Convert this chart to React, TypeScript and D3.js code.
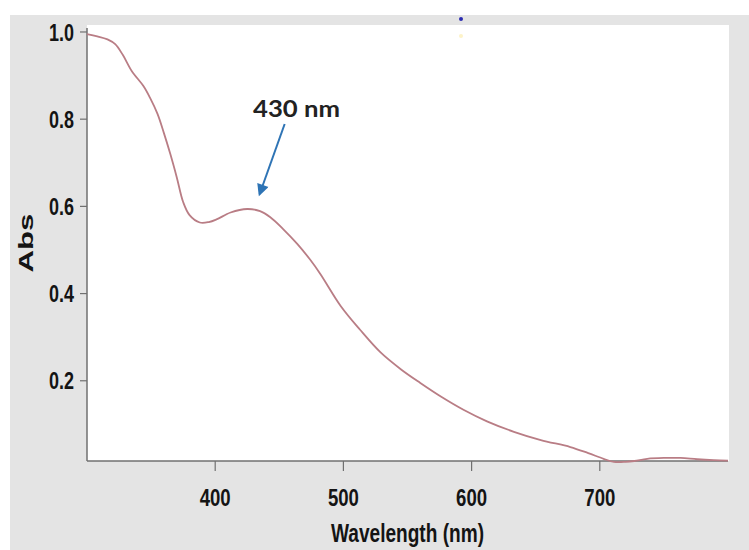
import React from "react";
import * as d3 from "d3";

// spectrum
const wavelengths = [300, 308, 316, 322, 328, 335, 344, 349, 355, 360, 365, 370, 375, 380, 388, 395, 401, 412, 425, 435, 443, 453, 464, 474, 482, 498, 513, 529, 545, 560, 576, 594, 612, 633, 654, 677, 691, 703, 711, 720, 727, 737, 750, 763, 776, 789, 800];
const absorbance = [0.995, 0.99, 0.983, 0.972, 0.947, 0.91, 0.876, 0.85, 0.812, 0.768, 0.72, 0.667, 0.61, 0.58, 0.563, 0.564, 0.57, 0.586, 0.594, 0.589, 0.575, 0.548, 0.514, 0.478, 0.445, 0.371, 0.317, 0.265, 0.226, 0.195, 0.164, 0.133, 0.107, 0.083, 0.064, 0.048, 0.034, 0.021, 0.014, 0.014, 0.016, 0.021, 0.023, 0.023, 0.02, 0.018, 0.017];

const xTicks = [400, 500, 600, 700];
const yTicks = [0.2, 0.4, 0.6, 0.8, 1.0];

const peakLabel = "430 nm";
const peakWavelength = 430;
const peakAbs = 0.594;

const W = 749;
const H = 550;
const left = 87;
const right = 728;
const top = 25;
const bottom = 461;

const App: React.FC = () => {
  const x = d3.scaleLinear().domain([300, 800]).range([left, right]);
  const y = d3.scaleLinear().domain([0.016, 1.016]).range([bottom, top]);

  const points: [number, number][] = wavelengths.map((w, i) => [w, absorbance[i]]);
  const line = d3
    .line<[number, number]>()
    .x((d) => x(d[0]))
    .y((d) => y(d[1]))
    .curve(d3.curveCatmullRom.alpha(0.5));

  const axisColor = "#707070";
  const labelFont = "'Liberation Sans', Arial, sans-serif";

  // arrow from label down to the peak
  const tipX = x(peakWavelength) + 6;
  const tipY = y(peakAbs) - 15;
  const startX = tipX + 25;
  const startY = tipY - 70;

  return (
    <svg
      width={W}
      height={H}
      style={{ position: "absolute", left: 0, top: 0 }}
    >
      <defs>
        <marker
          id="arrowHead"
          viewBox="0 0 10 10"
          refX="8"
          refY="5"
          markerWidth="7"
          markerHeight="6"
          orient="auto"
        >
          <path d="M0,0 L10,5 L0,10 z" fill="#2e74b5" />
        </marker>
      </defs>

      <rect x={0} y={0} width={W} height={H} fill="#ffffff" />
      <rect x={10} y={15} width={W - 10} height={H - 15} fill="#e4e4e4" />
      <rect x={left} y={top} width={right - left + 1} height={bottom - top} fill="#ffffff" />

      {/* stray marks near the top */}
      <circle cx={461} cy={19} r={2} fill="#2b2bb0" />
      <circle cx={461} cy={36} r={2} fill="#fdf3c8" />

      {/* axes */}
      <line x1={left} x2={left} y1={28} y2={bottom} stroke={axisColor} strokeWidth={1.5} />
      <line x1={left} x2={right} y1={bottom} y2={bottom} stroke={axisColor} strokeWidth={1.5} />

      {yTicks.map((t) => (
        <g key={t}>
          <line x1={left - 7} x2={left} y1={y(t)} y2={y(t)} stroke={axisColor} strokeWidth={1.2} />
          <text
            x={74}
            y={y(t)}
            dy="0.36em"
            textAnchor="end"
            fontFamily={labelFont}
            fontWeight="bold"
            fontSize={24}
            fill="#141414"
            textLength={25}
            lengthAdjust="spacingAndGlyphs"
          >
            {t.toFixed(1)}
          </text>
        </g>
      ))}

      {xTicks.map((t) => (
        <g key={t}>
          <line x1={x(t)} x2={x(t)} y1={bottom} y2={bottom + 10} stroke={axisColor} strokeWidth={1.2} />
          <text
            x={x(t)}
            y={bottom + 36}
            dy="0.36em"
            textAnchor="middle"
            fontFamily={labelFont}
            fontWeight="bold"
            fontSize={24}
            fill="#141414"
            textLength={31}
            lengthAdjust="spacingAndGlyphs"
          >
            {t}
          </text>
        </g>
      ))}

      <text
        x={(left + right) / 2}
        y={542}
        textAnchor="middle"
        fontFamily={labelFont}
        fontWeight="bold"
        fontSize={25}
        fill="#141414"
        textLength={153}
        lengthAdjust="spacingAndGlyphs"
      >
        Wavelength (nm)
      </text>

      <text
        transform={`translate(33, 243) rotate(-90)`}
        textAnchor="middle"
        fontFamily={labelFont}
        fontWeight="bold"
        fontSize={21}
        fill="#141414"
        textLength={59}
        lengthAdjust="spacingAndGlyphs"
      >
        Abs
      </text>

      {/* spectrum */}
      <path d={line(points) || ""} fill="none" stroke="#b97d85" strokeWidth={1.8} />

      {/* annotation */}
      <text
        x={253}
        y={117}
        fontFamily="Lato, 'Open Sans', sans-serif"
        fontWeight="bold"
        fontSize={22}
        fill="#222222"
        textLength={87}
        lengthAdjust="spacingAndGlyphs"
      >
        {peakLabel}
      </text>
      <line
        x1={startX}
        y1={startY}
        x2={tipX}
        y2={tipY}
        stroke="#2e74b5"
        strokeWidth={2}
        markerEnd="url(#arrowHead)"
      />
    </svg>
  );
};

export default App;
